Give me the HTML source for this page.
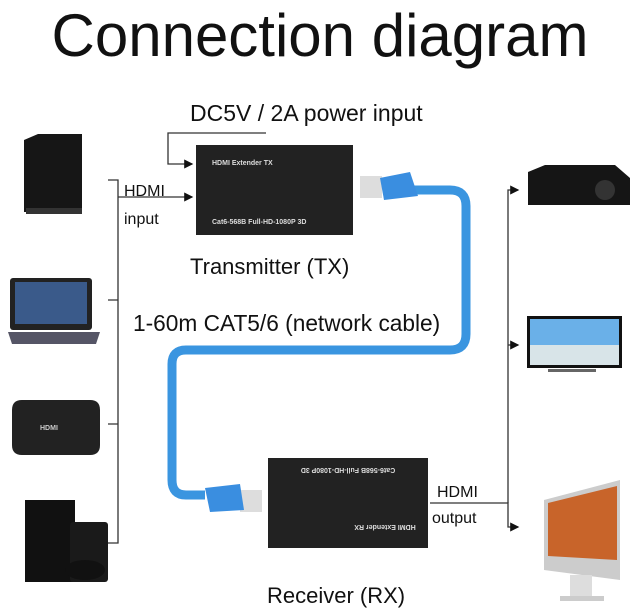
<!DOCTYPE html>
<html><head><meta charset="utf-8"><style>
body{margin:0;background:#fff;width:640px;height:616px;overflow:hidden}
svg{display:block}
text{font-family:"Liberation Sans",sans-serif;fill:#111}
</style></head><body>
<svg width="640" height="616" viewBox="0 0 640 616">
<defs><marker id="a" markerWidth="7" markerHeight="7" refX="6" refY="3.5" orient="auto"><path d="M0,0L7,3.5L0,7z" fill="#111"/></marker></defs>
<text x="320" y="56" font-size="60" text-anchor="middle">Connection diagram</text>
<text x="190" y="121" font-size="23">DC5V / 2A power input</text>
<g stroke="#333" stroke-width="1.3" fill="none">
<path d="M266,133H168V164H192" marker-end="url(#a)"/>
<path d="M108,180H118V543H108M108,300H118M108,424H118"/>
<path d="M118,197H192" marker-end="url(#a)"/>
<path d="M430,503H508V527H518" marker-end="url(#a)"/>
<path d="M508,503V190H518" marker-end="url(#a)"/>
<path d="M508,345H518" marker-end="url(#a)"/>
</g>
<text x="124" y="196" font-size="16">HDMI</text>
<text x="124" y="224" font-size="16">input</text>
<text x="437" y="497" font-size="16">HDMI</text>
<text x="432" y="523" font-size="16">output</text>
<rect x="196" y="145" width="157" height="90" fill="#222"/>
<text x="212" y="165" font-size="7" style="fill:#ddd" font-weight="bold">HDMI Extender TX</text>
<text x="212" y="224" font-size="7" style="fill:#ddd" font-weight="bold">Cat6-568B Full-HD-1080P 3D</text>
<text x="190" y="274" font-size="22">Transmitter (TX)</text>
<text x="133" y="331" font-size="22.7">1-60m CAT5/6 (network cable)</text>
<path d="M405,190H450Q466,190 466,206V334Q466,350 450,350H186Q172,350 172,364V480Q172,495 186,495H205" stroke="#3a95e0" stroke-width="9" fill="none"/>
<rect x="360" y="176" width="22" height="22" fill="#ddd"/>
<path d="M380,178L410,172L418,196L384,200z" fill="#3a8ee0"/>
<rect x="240" y="490" width="22" height="22" fill="#ddd"/>
<path d="M205,488L240,484L244,510L210,512z" fill="#3a8ee0"/>
<rect x="268" y="458" width="160" height="90" fill="#222"/>
<text transform="rotate(180 348 471)" x="348" y="474" font-size="7" text-anchor="middle" style="fill:#ddd" font-weight="bold">Cat6-568B Full-HD-1080P 3D</text>
<text transform="rotate(180 385 528)" x="385" y="531" font-size="7" text-anchor="middle" style="fill:#ddd" font-weight="bold">HDMI Extender RX</text>
<text x="267" y="603" font-size="22">Receiver (RX)</text>
<path d="M24,140L38,134H82V212H24z" fill="#161616"/><rect x="26" y="208" width="56" height="6" fill="#333"/>
<rect x="10" y="278" width="82" height="52" rx="3" fill="#222"/><rect x="15" y="282" width="72" height="42" fill="#3a5a8a"/><path d="M8,332H100L96,344H12z" fill="#556"/>
<path d="M12,410Q12,400 22,400H90Q100,400 100,410V445Q100,455 90,455H22Q12,455 12,445z" fill="#222"/>
<text x="40" y="430" font-size="7" style="fill:#ccc" font-weight="bold">HDMI</text>
<rect x="25" y="500" width="50" height="82" fill="#111"/><rect x="70" y="522" width="38" height="60" rx="3" fill="#1a1a1a"/>
<ellipse cx="85" cy="570" rx="20" ry="10" fill="#111"/>
<path d="M528,172L545,165H615L630,178V205H528z" fill="#151515"/><circle cx="605" cy="190" r="10" fill="#333"/>
<rect x="527" y="316" width="95" height="52" fill="#111"/><rect x="530" y="319" width="89" height="46" fill="#6ab0e8"/><rect x="530" y="345" width="89" height="20" fill="#d8e4e8"/><rect x="548" y="369" width="48" height="3" fill="#666"/>
<path d="M544,500L620,480V580L544,570z" fill="#ccc"/><path d="M548,503L617,486V560L548,556z" fill="#c8642a"/>
<rect x="570" y="575" width="22" height="22" fill="#ddd"/><rect x="560" y="596" width="44" height="5" fill="#ccc"/>
</svg>
</body></html>
